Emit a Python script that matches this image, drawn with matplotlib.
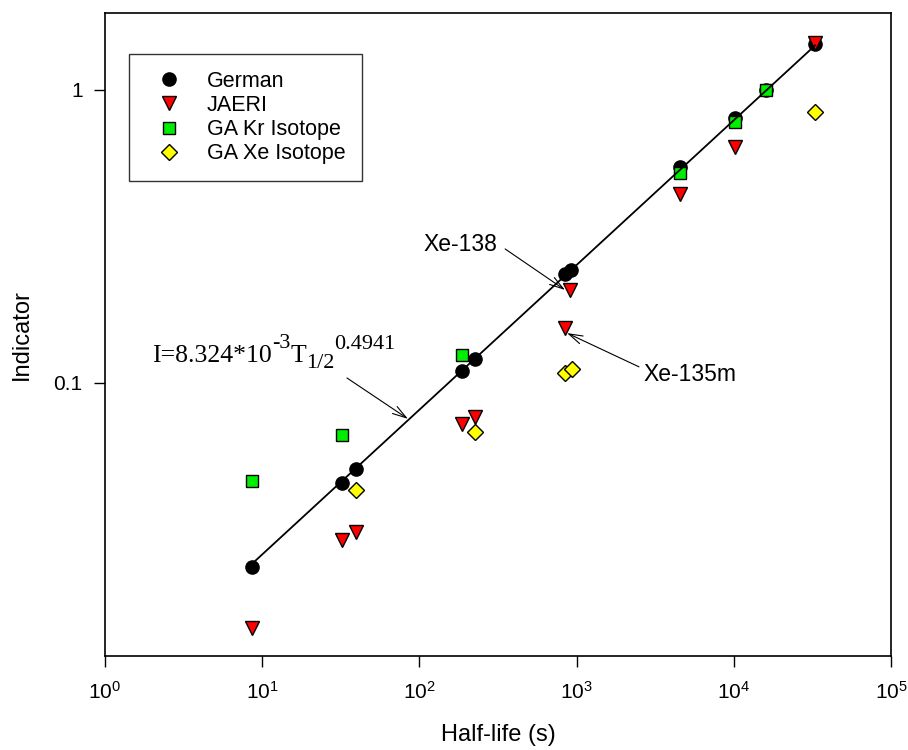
import numpy as np
import matplotlib
matplotlib.use('Agg')
from matplotlib import pyplot as plt
from matplotlib.transforms import offset_copy

plt.rcParams['font.family'] = ['Liberation Sans', 'DejaVu Sans']
plt.rcParams['mathtext.fontset'] = 'custom'
plt.rcParams['mathtext.rm'] = 'Liberation Sans'
plt.rcParams['mathtext.it'] = 'Liberation Sans:italic'

# half-life (s) and indicator values
german_t = [8.57, 32.3, 39.7, 186, 226, 846, 918, 4578, 10224, 16128, 32904]
german_i = [0.0236, 0.0457, 0.0507, 0.110, 0.121, 0.236, 0.243, 0.545, 0.804, 1.0, 1.43]

jaeri_t = [8.57, 32.3, 39.7, 186, 226, 844, 908, 4578, 10224, 32904]
jaeri_i = [0.0146, 0.0291, 0.0310, 0.0725, 0.0767, 0.154, 0.208, 0.442, 0.641, 1.45]

kr_t = [8.57, 32.3, 188, 4578, 10224, 16128]
kr_i = [0.0463, 0.0665, 0.125, 0.522, 0.78, 1.0]

xe_t = [39.7, 226, 844, 940, 32904]
xe_i = [0.0431, 0.0682, 0.108, 0.112, 0.84]

# fit I = 8.324e-3 * T^0.4941
fit_a = 8.324e-3
fit_b = 0.4941
fit_range = [8.57, 32904]

fig = plt.figure(figsize=(9.08, 7.5), dpi=100)
ax = fig.add_axes([0.1156, 0.1253, 0.8657, 0.8574])

ms = 9.5
ax.plot(german_t, german_i, 'o', color='black', ms=ms, label='German', zorder=3)
ax.plot(jaeri_t, jaeri_i, 'v', mfc='red', mec='black', mew=1.0, ms=ms + 1, label='JAERI', zorder=3)
ax.plot(kr_t, kr_i, 's', mfc='#00ee00', mec='black', mew=1.0, ms=ms - 0.5, label='GA Kr Isotope', zorder=3)
ax.plot(xe_t, xe_i, 'D', mfc='yellow', mec='black', mew=1.0, ms=ms - 1.5, label='GA Xe Isotope', zorder=3)

tt = np.logspace(np.log10(fit_range[0]), np.log10(fit_range[1]), 200)
ax.plot(tt, fit_a * tt ** fit_b, color='black', lw=1.3, zorder=4)

ax.set_xscale('log')
ax.set_yscale('log')
ax.set_xlim(1, 1e5)
ax.set_ylim(0.01169, 1.832)
ax.set_xticks([1, 10, 100, 1000, 1e4, 1e5])
ax.set_yticks([0.1, 1])
ax.set_yticklabels(['0.1', '1'])
ax.minorticks_off()
ax.tick_params(direction='out', length=8, width=1.0, labelsize=15)
ax.tick_params(axis='x', pad=10)
ax.tick_params(axis='y', pad=8)
for s in ax.spines.values():
    s.set_linewidth(1.2)

ax.set_xlabel('Half-life (s)', fontsize=17)
ax.set_ylabel('Indicator', fontsize=17)
ax.xaxis.set_label_coords(0.5, -0.106)
ax.yaxis.set_label_coords(-0.092, 0.5)

leg = ax.legend(loc='upper left', bbox_to_anchor=(0.0305, 0.936), borderaxespad=0,
                fontsize=15.5, frameon=True, fancybox=False, edgecolor='black',
                borderpad=0.77, handlelength=2.17, handletextpad=0.68, labelspacing=0.15)
leg.get_frame().set_linewidth(1.0)

arrow = dict(arrowstyle='->, head_length=1.0, head_width=0.3', color='black', lw=0.8,
             shrinkA=0, shrinkB=0)
ax.annotate('', xy=(844, 0.2077), xytext=(351, 0.2867), arrowprops=arrow)
ax.text(312, 0.296, 'Xe-138', fontsize=16.5, ha='right', va='center')
ax.annotate('', xy=(869, 0.148), xytext=(2494, 0.1135), arrowprops=arrow)
ax.text(2645, 0.1065, 'Xe-135m', fontsize=16.5, ha='left', va='center')
ax.annotate('', xy=(84.6, 0.0754), xytext=(34.6, 0.104), arrowprops=arrow)

# fit equation, built piece by piece so the scripts keep their large size
fig.canvas.draw()
rend = fig.canvas.get_renderer()
pieces = [('I=8.324*10', 18.5, 0), ('-3', 16, 14), ('T', 18.5, 0),
          ('1/2', 16, -6), ('0.4941', 16, 13)]
x_off = 0
for s, size, dy in pieces:
    tr = offset_copy(ax.transData, fig=fig, x=x_off, y=dy, units='dots')
    t = ax.text(1.99, 0.118, s, fontsize=size, family='Liberation Serif',
                ha='left', va='baseline', transform=tr)
    x_off += t.get_window_extent(rend).width

fig.savefig('out.png', dpi=100)
